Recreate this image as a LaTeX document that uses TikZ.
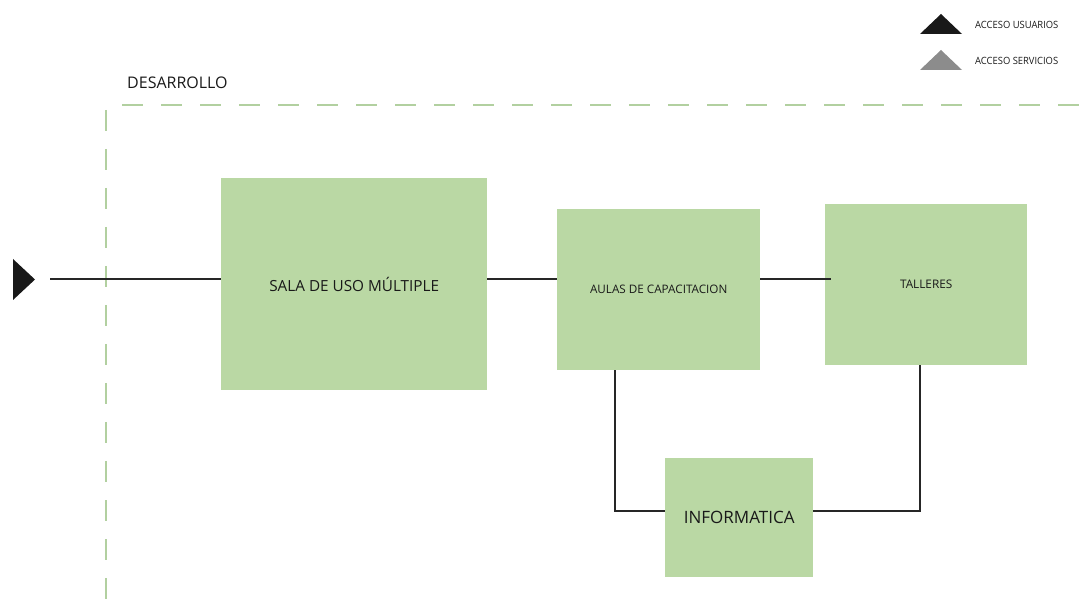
\documentclass[tikz,border=0pt]{standalone}
\usepackage{fontspec}
\setmainfont{Open Sans}
\begin{document}
\begin{tikzpicture}[x=1pt,y=-1pt,
  area/.style={fill=boxgreen,draw=none,inner sep=0pt,anchor=north west},
  link/.style={draw=black!85,line width=1.1pt},
  zone/.style={draw=zonegreen,line width=1.3pt,dash pattern=on 21pt off 18pt},
  lbl/.style={font=\fontsize{#1}{#1}\selectfont,inner sep=0pt,text=black!90}]
\definecolor{boxgreen}{RGB}{186,216,164}
\definecolor{zonegreen}{RGB}{178,208,160}
\useasboundingbox (0,0) rectangle (1090,601);
% zone boundary
\draw[zone] (122,105) -- (1090,105);
\draw[zone] (106,110) -- (106,601);
\node[lbl=16,anchor=west] (zonename) at (127,83) {DESARROLLO};
% legend
\fill[black!90] (920,34) -- (941,14) -- (962,34) -- cycle;
\fill[black!45] (920,70) -- (941,50) -- (962,70) -- cycle;
\node[lbl=10,anchor=west,xscale=0.94] (leg1) at (975,25) {ACCESO USUARIOS};
\node[lbl=10,anchor=west,xscale=0.94] (leg2) at (975,61) {ACCESO SERVICIOS};
% rooms
\node[area,minimum width=266pt,minimum height=212pt] (sala) at (221,178) {};
\node[lbl=15.3] (salatxt) at (sala.center) {SALA DE USO MÚLTIPLE};
\node[area,minimum width=203pt,minimum height=161pt] (aulas) at (557,209) {};
\node[lbl=11.7] (aulastxt) at (aulas.center) {AULAS DE CAPACITACION};
\node[area,minimum width=202pt,minimum height=161pt] (talleres) at (825,204) {};
\node[lbl=11.8] (tallerestxt) at (talleres.center) {TALLERES};
\node[area,minimum width=148pt,minimum height=119pt] (info) at (665,458) {};
\node[lbl=17] (infotxt) at (info.center) {INFORMATICA};
% entrance
\coordinate (entry) at (50,279);
\fill[black!90] (13,259) -- (35,279.5) -- (13,300) -- cycle;
% connections
\draw[link] (entry) -- (sala.west |- entry);
\draw[link] (sala.east |- entry) -- (aulas.west |- entry);
\draw[link] (aulas.east |- entry) -- ([xshift=6pt]talleres.west |- entry);
\draw[link] (aulas.south -| 615,0) |- (info.west |- 0,511);
\draw[link] (info.east |- 0,511) -| (talleres.south -| 920,0);
\end{tikzpicture}
\end{document}
